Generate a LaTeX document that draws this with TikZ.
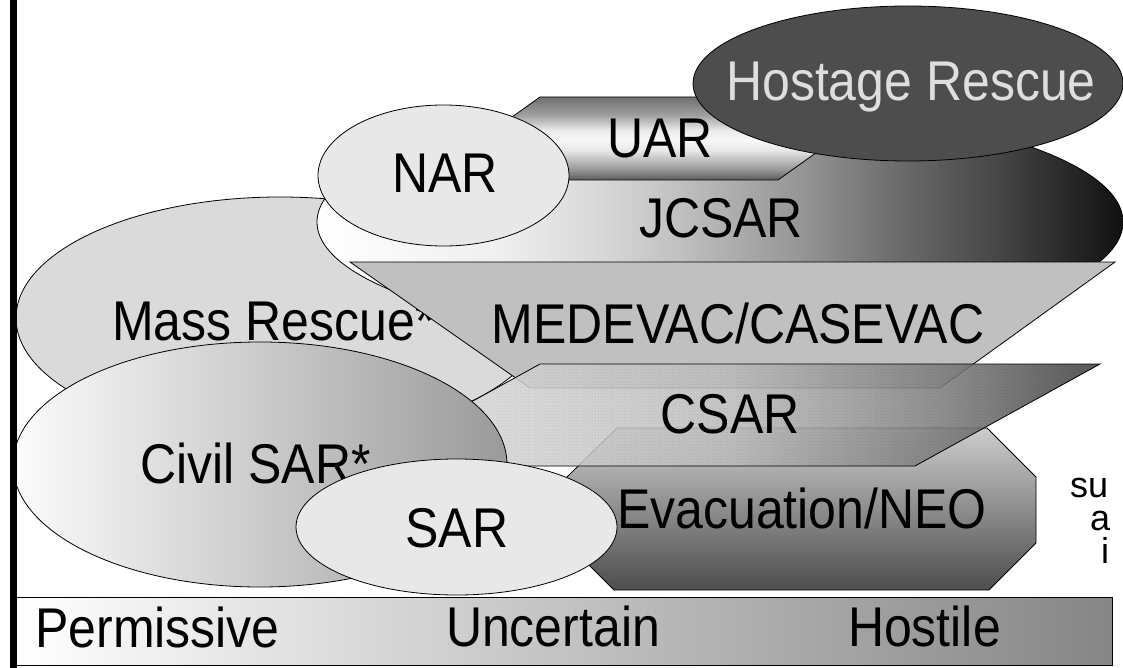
\documentclass[tikz,border=0pt]{standalone}
\usepackage{graphicx}
\usepackage{fontspec}
\setmainfont{Liberation Sans}
\usetikzlibrary{shapes.geometric,patterns}

\definecolor{jA}{HTML}{FFFFFF}
\definecolor{jB}{HTML}{EFEFEF}
\definecolor{jC}{HTML}{D8D8D8}
\definecolor{jD}{HTML}{C0C0C0}
\definecolor{jE}{HTML}{959595}
\definecolor{jF}{HTML}{6A6A6A}
\definecolor{jG}{HTML}{454545}
\definecolor{jH}{HTML}{1A1A1A}
\definecolor{jI}{HTML}{111111}
\pgfdeclarehorizontalshading{jcsarsh}{100bp}{color(0bp)=(jA); color(25bp)=(jA); color(36.35bp)=(jB); color(42.55bp)=(jC); color(47.5bp)=(jD); color(55bp)=(jE); color(61.2bp)=(jF); color(67.4bp)=(jG); color(73.6bp)=(jH); color(75bp)=(jI); color(100bp)=(jI)}

\definecolor{uA}{HTML}{5A5A5A}
\definecolor{uB}{HTML}{959595}
\definecolor{uC}{HTML}{E8E8E8}
\definecolor{uD}{HTML}{F8F8F8}
\definecolor{uE}{HTML}{EAEAEA}
\definecolor{uF}{HTML}{A0A0A0}
\definecolor{uG}{HTML}{707070}
\pgfdeclareverticalshading{uarsh}{100bp}{color(0bp)=(uA); color(25bp)=(uA); color(31bp)=(uB); color(43bp)=(uC); color(49bp)=(uD); color(55bp)=(uE); color(64bp)=(uF); color(75bp)=(uG); color(100bp)=(uG)}

\definecolor{eA}{HTML}{4D4D4D}
\definecolor{eB}{HTML}{CDCDCD}
\pgfdeclareverticalshading{evacsh}{100bp}{color(0bp)=(eA); color(25bp)=(eA); color(75bp)=(eB); color(100bp)=(eB)}

\definecolor{cA}{HTML}{FCFCFC}
\definecolor{cB}{HTML}{9A9A9A}
\pgfdeclarehorizontalshading{civsh}{100bp}{color(0bp)=(cA); color(25bp)=(cA); color(75bp)=(cB); color(100bp)=(cB)}

\definecolor{bA}{HTML}{FFFFFF}
\definecolor{bB}{HTML}{868686}
\pgfdeclarehorizontalshading{barsh}{100bp}{color(0bp)=(bA); color(25bp)=(bA); color(75bp)=(bB); color(100bp)=(bB)}

\definecolor{sA}{HTML}{E4E4E4}
\definecolor{sB}{HTML}{BDBDBD}
\definecolor{sC}{HTML}{7A7A7A}
\definecolor{sD}{HTML}{3C3C3C}
\pgfdeclarehorizontalshading{csarsh}{100bp}{color(0bp)=(sA); color(25bp)=(sA); color(50.2bp)=(sB); color(64.9bp)=(sC); color(75bp)=(sD); color(100bp)=(sD)}

\definecolor{mrfill}{HTML}{DADADA}
\definecolor{narfill}{HTML}{E8E8E8}
\definecolor{hrfill}{HTML}{4D4D4D}
\definecolor{hrtext}{HTML}{DEDEDE}
\definecolor{medfill}{HTML}{C0C0C0}

\newcommand{\tallt}[1]{\scalebox{1}[1.12]{#1}}

\begin{document}
\begin{tikzpicture}[x=1pt,y=-1pt,
  outl/.style={draw=black,line width=0.8pt},
  lbl/.style={font=\fontsize{50}{60}\selectfont,inner sep=0pt,anchor=base},
  small/.style={font=\fontsize{36}{42}\selectfont,inner sep=0pt,anchor=base west,text height=19pt,text depth=0pt},
  oval/.style={ellipse,inner sep=0pt,outl}]
\useasboundingbox (0,0) rectangle (1123,668);

% Mass Rescue
\node[oval,fill=mrfill,minimum width=528pt,minimum height=242pt] (mass) at (280,318) {};
\node[lbl,anchor=base west] (masst) at (112,340) {\tallt{Mass Rescue*}};

% JCSAR
\node[oval,shading=jcsarsh,minimum width=806pt,minimum height=236pt] (jcsar) at (720,222) {};
\node[lbl] (jcsart) at (721,237) {\tallt{JCSAR}};

% UAR
\path[outl,shading=uarsh] (482,138.5) -- (540,97) -- (778,97) -- (836,138.5) -- (778,180) -- (540,180) -- cycle;
\node[lbl] (uart) at (660,158) {\tallt{UAR}};

% NAR
\node[oval,fill=narfill,minimum width=251pt,minimum height=141pt] (nar) at (443.5,175.5) {};
\node[lbl] (nart) at (445,193) {\tallt{NAR}};

% Hostage Rescue
\node[oval,fill=hrfill,minimum width=430pt,minimum height=155pt] (hr) at (908,83.5) {};
\node[lbl,text=hrtext] (hrt) at (911,101) {\tallt{Hostage Rescue}};

% MEDEVAC
\path[outl,fill=medfill] (350,262) -- (1115,262) -- (940,388) -- (530,388) -- cycle;
\node[lbl] (medt) at (738,343) {\tallt{MEDEVAC/CASEVAC}};

% Evacuation
\path[outl,shading=evacsh] (617,428) -- (987,428) -- (1036,477) -- (1036,543) -- (989,590) -- (614,590) -- (567,543) -- (567,477) -- cycle;
\node[lbl] (evt) at (802,528) {\tallt{Evacuation/NEO}};

% CSAR
\path[shading=csarsh,fill opacity=0.86] (540,364) -- (1100,364) -- (915,466) -- (355,466) -- cycle;
\path[pattern=crosshatch dots,pattern color=black,fill opacity=0.10] (540,364) -- (1100,364) -- (915,466) -- (355,466) -- cycle;
\draw[line width=0.8pt] (540,364) -- (1100,364) -- (915,466) -- (355,466) -- cycle;
\node[lbl] (csart) at (730,433) {\tallt{CSAR}};

% Civil SAR
\node[oval,shading=civsh,minimum width=494pt,minimum height=245pt] (civ) at (260,464.5) {};
\node[lbl,anchor=base west] (civt) at (140,483) {\tallt{Civil SAR*}};

% SAR
\node[oval,fill=narfill,minimum width=321pt,minimum height=136pt] (sar) at (456.5,527) {};
\node[lbl] (sart) at (457,547) {\tallt{SAR}};

% bottom bar
\node[rectangle,outl,shading=barsh,inner sep=0pt,minimum width=1096pt,minimum height=68pt] (bar) at (564,631) {};
\node[lbl,anchor=base west] (perm) at (35,647) {\tallt{Permissive}};
\node[lbl] (unc) at (553,646) {\tallt{Uncertain}};
\node[lbl] (host) at (924.5,646) {\tallt{Hostile}};

% left black bar
\fill[black] (10,0) rectangle (17,668);

% cut-off text at right edge
\node[small] (f1) at (1070,497) {su};
\node[small] (f2) at (1090,530) {a};
\node[small] (f3) at (1101,563) {i};
\end{tikzpicture}
\end{document}
